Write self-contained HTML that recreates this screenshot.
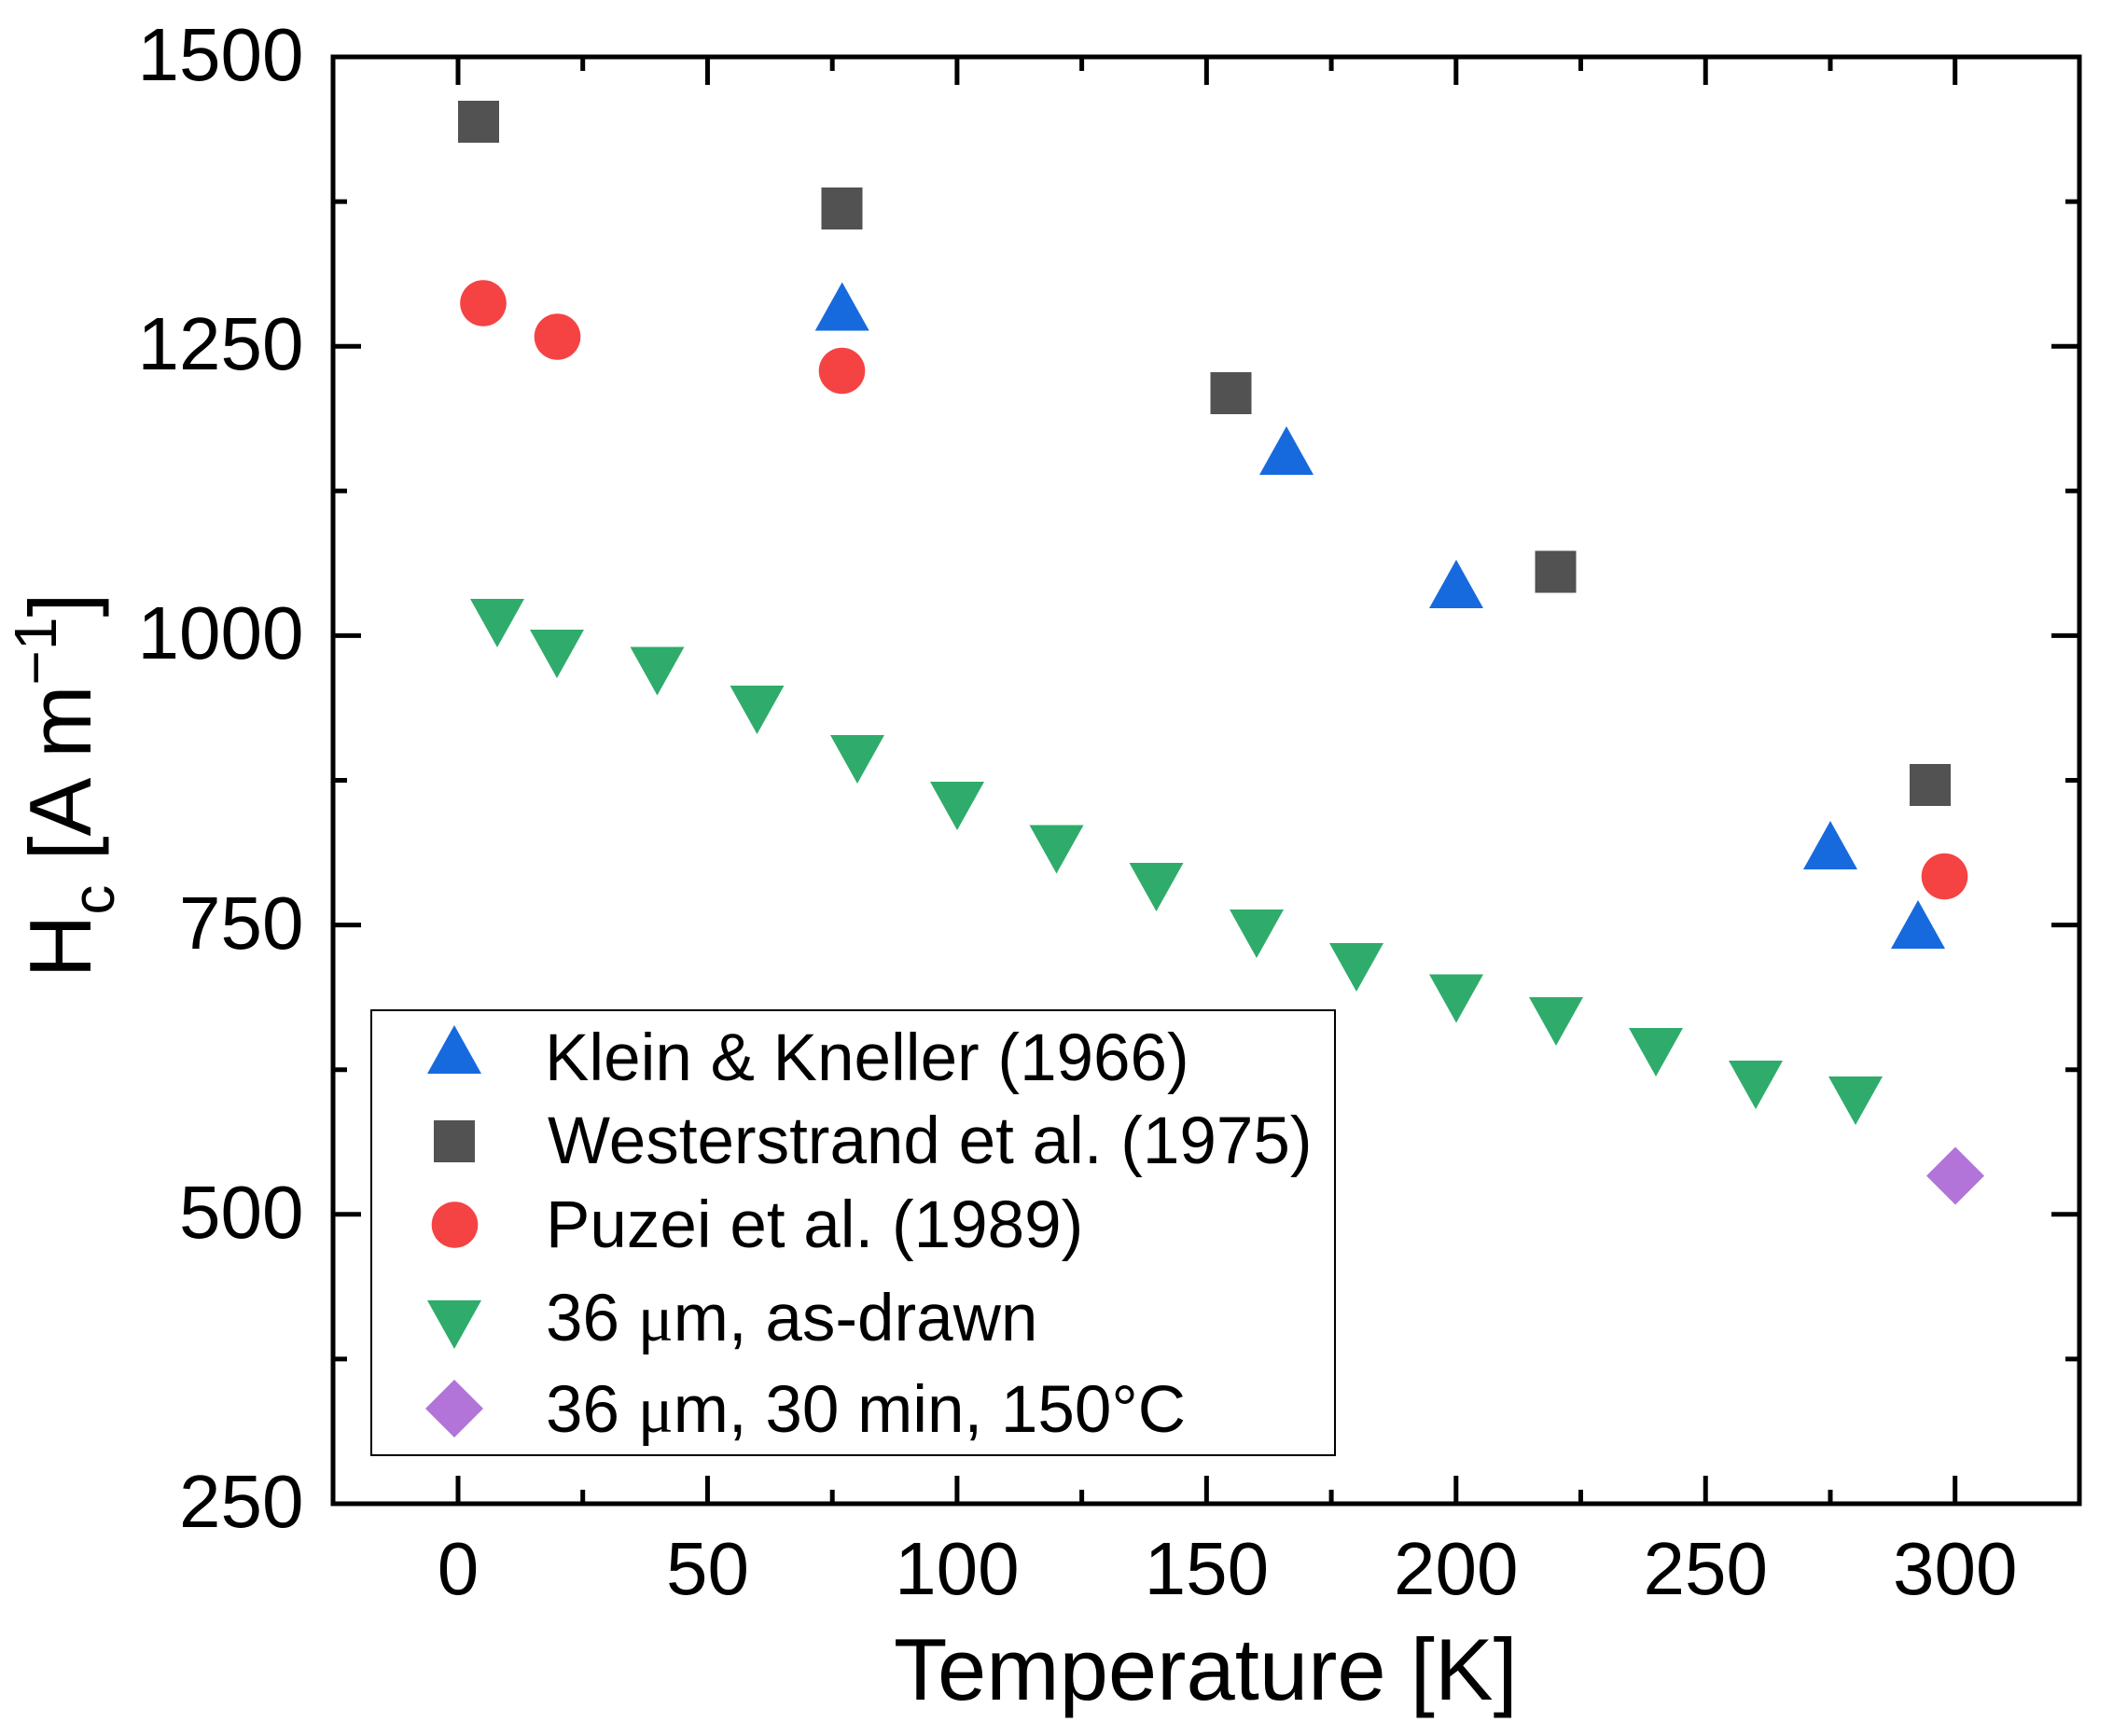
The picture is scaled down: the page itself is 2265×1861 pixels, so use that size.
<!DOCTYPE html>
<html>
<head>
<meta charset="utf-8">
<style>
html,body{margin:0;padding:0;background:#fff;}
svg{display:block;}
text{font-family:"Liberation Sans",Arial,sans-serif;fill:#000;}
</style>
</head>
<body>
<svg width="2265" height="1861" viewBox="0 0 2265 1861" xmlns="http://www.w3.org/2000/svg">
<rect x="0" y="0" width="2265" height="1861" fill="#fff"/>

<!-- data: Westerstrand squares -->
<g fill="#525252">
<rect x="491" y="108" width="44" height="45"/>
<rect x="880.5" y="201" width="44" height="45"/>
<rect x="1297.5" y="399" width="44" height="45"/>
<rect x="1645.5" y="590.5" width="44" height="45"/>
<rect x="2047" y="819" width="44" height="45"/>
</g>

<!-- Puzei circles -->
<g fill="#F54343">
<circle cx="518" cy="325" r="24.8"/>
<circle cx="597.5" cy="361" r="24.8"/>
<circle cx="902.5" cy="397.5" r="24.8"/>
<circle cx="2084.5" cy="939.5" r="24.8"/>
</g>

<!-- Klein triangles up -->
<g fill="#176ADE">
<polygon points="902.7,302.5 873.7,354.5 931.7,354.5"/>
<polygon points="1379,457 1350,509 1408,509"/>
<polygon points="1561,600 1532,652 1590,652"/>
<polygon points="1962,880 1933,932 1991,932"/>
<polygon points="2056,965 2027,1017 2085,1017"/>
</g>

<!-- 36 um as-drawn triangles down -->
<g fill="#2FAC6B">
<polygon points="504,642 562,642 533,694"/>
<polygon points="568,675 626,675 597,727"/>
<polygon points="675.5,693.5 733.5,693.5 704.5,745.5"/>
<polygon points="782.5,735 840.5,735 811.5,787"/>
<polygon points="890,788 948,788 919,840"/>
<polygon points="997,838 1055,838 1026,890"/>
<polygon points="1103.5,884.5 1161.5,884.5 1132.5,936.5"/>
<polygon points="1210.5,925 1268.5,925 1239.5,977"/>
<polygon points="1318,975 1376,975 1347,1027"/>
<polygon points="1425,1011 1483,1011 1454,1063"/>
<polygon points="1532,1044.5 1590,1044.5 1561,1096.5"/>
<polygon points="1639,1069 1697,1069 1668,1121"/>
<polygon points="1746,1102 1804,1102 1775,1154"/>
<polygon points="1853,1137 1911,1137 1882,1189"/>
<polygon points="1960,1154 2018,1154 1989,1206"/>
</g>

<!-- diamond -->
<polygon points="2096,1229.5 2127,1260.5 2096,1291.5 2065,1260.5" fill="#B274D9"/>

<!-- frame -->
<rect x="357" y="61" width="1872" height="1551" fill="none" stroke="#000" stroke-width="5"/>

<!-- ticks -->
<g stroke="#000" stroke-width="5" fill="none">
<path d="M491,1612V1582M758.45,1612V1582M1025.9,1612V1582M1293.35,1612V1582M1560.8,1612V1582M1828.25,1612V1582M2095.7,1612V1582"/>
<path d="M491,61V91M758.45,61V91M1025.9,61V91M1293.35,61V91M1560.8,61V91M1828.25,61V91M2095.7,61V91"/>
<path d="M624.7,1612V1597M892.2,1612V1597M1159.6,1612V1597M1427.1,1612V1597M1694.5,1612V1597M1962,1612V1597"/>
<path d="M624.7,61V76M892.2,61V76M1159.6,61V76M1427.1,61V76M1694.5,61V76M1962,61V76"/>
<path d="M357,371.2H387M357,681.4H387M357,991.6H387M357,1301.8H387"/>
<path d="M2229,371.2H2199M2229,681.4H2199M2229,991.6H2199M2229,1301.8H2199"/>
<path d="M357,216.1H372M357,526.3H372M357,836.5H372M357,1146.7H372M357,1456.9H372"/>
<path d="M2229,216.1H2214M2229,526.3H2214M2229,836.5H2214M2229,1146.7H2214M2229,1456.9H2214"/>
</g>

<!-- y tick labels -->
<g font-size="80" text-anchor="end">
<text x="325.5" y="86">1500</text>
<text x="325.5" y="396">1250</text>
<text x="325.5" y="706">1000</text>
<text x="325.5" y="1017">750</text>
<text x="325.5" y="1327">500</text>
<text x="325.5" y="1637">250</text>
</g>

<!-- x tick labels -->
<g font-size="80" text-anchor="middle">
<text x="491" y="1709">0</text>
<text x="758.45" y="1709">50</text>
<text x="1025.9" y="1709">100</text>
<text x="1293.35" y="1709">150</text>
<text x="1560.8" y="1709">200</text>
<text x="1828.25" y="1709">250</text>
<text x="2095.7" y="1709">300</text>
</g>

<!-- axis titles -->
<text x="958" y="1822" font-size="94">Temperature [K]</text>
<text transform="translate(97,1048.5) rotate(-90)" x="0" y="0" font-size="94">H<tspan font-size="64" dy="25">c</tspan><tspan dy="-25"> [A m</tspan><tspan font-size="64" dy="-37">−1</tspan><tspan dy="37">]</tspan></text>

<!-- legend -->
<rect x="398" y="1083" width="1033" height="477" fill="#fff" stroke="#000" stroke-width="2"/>
<polygon points="487,1099 458,1151 516,1151" fill="#176ADE"/>
<rect x="465" y="1201" width="44" height="45" fill="#525252"/>
<circle cx="487.5" cy="1313" r="24.8" fill="#F54343"/>
<polygon points="458,1394 516,1394 487,1446" fill="#2FAC6B"/>
<polygon points="487,1479 518,1510 487,1541 456,1510" fill="#B274D9"/>
<g font-size="71">
<text x="584" y="1158">Klein &amp; Kneller (1966)</text>
<text x="587" y="1247">Westerstrand et al. (1975)</text>
<text x="585" y="1337">Puzei et al. (1989)</text>
<text x="585" y="1437">36 <tspan font-family="'Liberation Serif','DejaVu Serif',serif">μ</tspan>m, as-drawn</text>
<text x="585" y="1535">36 <tspan font-family="'Liberation Serif','DejaVu Serif',serif">μ</tspan>m, 30 min, 150°C</text>
</g>
</svg>
</body>
</html>
